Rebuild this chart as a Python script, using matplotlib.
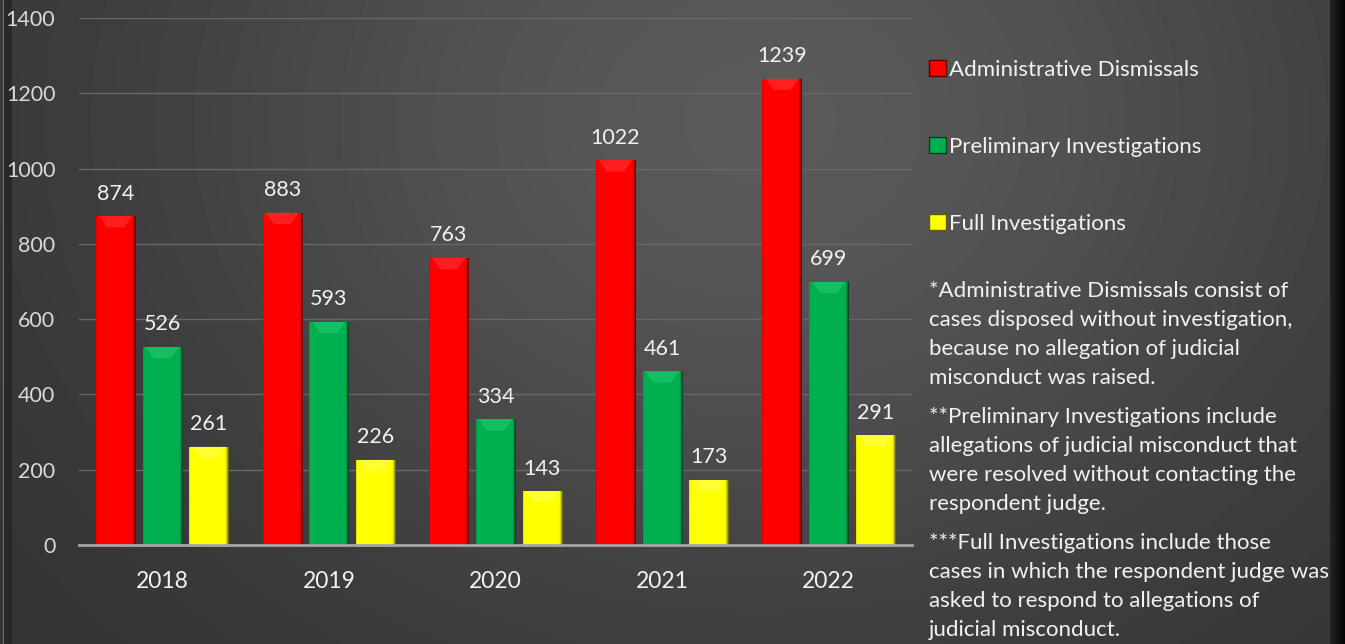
import numpy as np
import matplotlib.pyplot as plt
from matplotlib.colors import LinearSegmentedColormap
from matplotlib.patches import Patch, Polygon

plt.rcParams['font.family'] = ['Lato', 'DejaVu Sans']

# data
years = ['2018', '2019', '2020', '2021', '2022']
admin = [874, 883, 763, 1022, 1239]
prelim = [526, 593, 334, 461, 699]
full = [261, 226, 143, 173, 291]
series = ['Administrative Dismissals', 'Preliminary Investigations', 'Full Investigations']
values = [admin, prelim, full]
colors = ['#ff0000', '#00b050', '#ffff00']
darks = ['#5a0000', '#003d20', '#5e5e00']
lights = ['#ff5a5a', '#3fd987', '#ffff8c']
notes = [
    '*Administrative Dismissals consist of\ncases disposed without investigation,\nbecause no allegation of judicial\nmisconduct was raised.',
    '**Preliminary Investigations include\nallegations of judicial misconduct that\nwere resolved without contacting the\nrespondent judge.',
    '***Full Investigations include those\ncases in which the respondent judge was\nasked to respond to allegations of\njudicial misconduct.',
]

fig = plt.figure(figsize=(13.45, 6.44), dpi=100)

# dark gradient background, lighter toward upper middle
bg = fig.add_axes([0, 0, 1, 1], zorder=-1)
px = np.arange(1345)
py = np.arange(644)
X, Y = np.meshgrid(px, py)
r2 = ((X - 760) / 800) ** 2 + ((Y - 120) / 650) ** 2
shade = 0.19 + 0.16 * np.exp(-1.6 * r2)
shade[:, 1330:] = np.linspace(0.14, 0.02, 15)
shade[:, 3] = 0.45
shade[:, 4:12] = 0.16
bg.imshow(shade, cmap='gray', vmin=0, vmax=1, aspect='auto', extent=[0, 1345, 644, 0])
bg.axis('off')

ax = fig.add_axes([79 / 1345, 99 / 644, 833 / 1345, 527 / 644])
ax.set_facecolor('none')

x = np.arange(len(years))
width = 0.235
offsets = [-0.28, 0, 0.28]
t = np.linspace(-1, 1, 60)
grad = np.where(t > 0, t ** 4, 0.6 * t ** 4)
grad = np.tile(grad, (2, 1))
bevel = 30

for vals, name, c, d, lt, off in zip(values, series, colors, darks, lights, offsets):
    bars = ax.bar(x + off, vals, width, color=c, zorder=3, label=name)
    cmap = LinearSegmentedColormap.from_list('b', [c, c, d])
    for p, v in zip(bars, vals):
        x0 = p.get_x()
        w = p.get_width()
        im = ax.imshow(grad, cmap=cmap, vmin=0, vmax=1, aspect='auto',
                       extent=[x0, x0 + w, 0, v], zorder=3)
        im.set_clip_path(p)
        # lighter chevron at the top
        ax.add_patch(Polygon([(x0 + 0.08 * w, v), (x0 + 0.92 * w, v),
                              (x0 + 0.72 * w, v - bevel), (x0 + 0.28 * w, v - bevel)],
                             closed=True, facecolor=lt, edgecolor='none', alpha=0.35, zorder=4))
        ax.annotate(str(v), (x0 + w / 2, v), xytext=(0, 9),
                    textcoords='offset points', ha='center', va='bottom',
                    color='#f2f2f2', fontsize=15.5)

ax.set_xlim(-0.5, 4.5)
ax.set_ylim(0, 1400)
ax.set_yticks(range(0, 1401, 200))
ax.set_xticks(x)
ax.set_xticklabels(years)
ax.grid(axis='y', color='#676767', linewidth=1, zorder=0)
ax.tick_params(colors='#d9d9d9', labelsize=15.5, length=0)
ax.tick_params(axis='y', pad=17)
ax.tick_params(axis='x', pad=19, labelcolor='#f2f2f2', labelsize=16.5)
for s in ['top', 'right', 'left']:
    ax.spines[s].set_visible(False)
ax.spines['bottom'].set_color('#a6a6a6')
ax.spines['bottom'].set_linewidth(2)
ax.spines['bottom'].set_zorder(5)

handles = [Patch(facecolor=c, edgecolor=d) for c, d in zip(colors, darks)]
fig.legend(handles, series, loc='upper left', bbox_to_anchor=(929 / 1345, 1 - 60 / 644),
           frameon=False, fontsize=16, labelcolor='#f2f2f2', handlelength=0.75,
           handleheight=0.75, handletextpad=0.15, labelspacing=2.56,
           borderpad=0, borderaxespad=0)

note_y = [281, 407, 533]
for txt, ny in zip(notes, note_y):
    fig.text(929 / 1345, 1 - ny / 644, txt, ha='left', va='top', color='#f2f2f2',
             fontsize=16, linespacing=1.56)

fig.savefig('out.png', dpi=100)
